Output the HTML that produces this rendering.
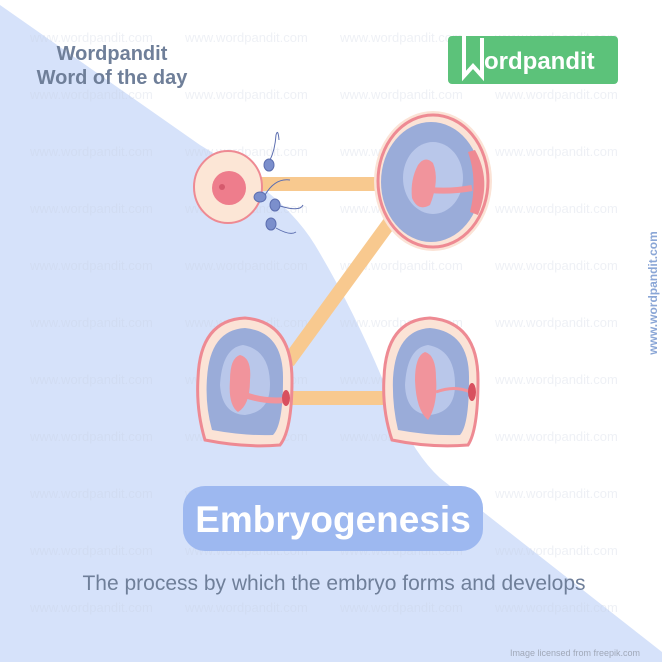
<!DOCTYPE html>
<html><head><meta charset="utf-8"><style>
html,body{margin:0;padding:0;width:662px;height:662px;overflow:hidden;background:#fff}
svg{display:block}
text{font-family:"Liberation Sans","DejaVu Sans",sans-serif}
</style></head><body>
<svg width="662" height="662" viewBox="0 0 662 662" xmlns="http://www.w3.org/2000/svg">
<rect width="662" height="662" fill="#fff"/>
<path d="M0,5 L200,145 Q285,195 315,245 Q360,320 395,410 Q415,455 440,478 L662,652 L662,662 L0,662 Z" fill="#d6e2fa"/>
<g font-size="13" fill="#c8d0e0" opacity="0.3">
<text x="30" y="42">www.wordpandit.com</text><text x="185" y="42">www.wordpandit.com</text><text x="340" y="42">www.wordpandit.com</text><text x="495" y="42">www.wordpandit.com</text>
<text x="30" y="99">www.wordpandit.com</text><text x="185" y="99">www.wordpandit.com</text><text x="340" y="99">www.wordpandit.com</text><text x="495" y="99">www.wordpandit.com</text>
<text x="30" y="156">www.wordpandit.com</text><text x="185" y="156">www.wordpandit.com</text><text x="340" y="156">www.wordpandit.com</text><text x="495" y="156">www.wordpandit.com</text>
<text x="30" y="213">www.wordpandit.com</text><text x="185" y="213">www.wordpandit.com</text><text x="340" y="213">www.wordpandit.com</text><text x="495" y="213">www.wordpandit.com</text>
<text x="30" y="270">www.wordpandit.com</text><text x="185" y="270">www.wordpandit.com</text><text x="340" y="270">www.wordpandit.com</text><text x="495" y="270">www.wordpandit.com</text>
<text x="30" y="327">www.wordpandit.com</text><text x="185" y="327">www.wordpandit.com</text><text x="340" y="327">www.wordpandit.com</text><text x="495" y="327">www.wordpandit.com</text>
<text x="30" y="384">www.wordpandit.com</text><text x="185" y="384">www.wordpandit.com</text><text x="340" y="384">www.wordpandit.com</text><text x="495" y="384">www.wordpandit.com</text>
<text x="30" y="441">www.wordpandit.com</text><text x="185" y="441">www.wordpandit.com</text><text x="340" y="441">www.wordpandit.com</text><text x="495" y="441">www.wordpandit.com</text>
<text x="30" y="498">www.wordpandit.com</text><text x="185" y="498">www.wordpandit.com</text><text x="340" y="498">www.wordpandit.com</text><text x="495" y="498">www.wordpandit.com</text>
<text x="30" y="555">www.wordpandit.com</text><text x="185" y="555">www.wordpandit.com</text><text x="340" y="555">www.wordpandit.com</text><text x="495" y="555">www.wordpandit.com</text>
<text x="30" y="612">www.wordpandit.com</text><text x="185" y="612">www.wordpandit.com</text><text x="340" y="612">www.wordpandit.com</text><text x="495" y="612">www.wordpandit.com</text>
</g>
<text x="112" y="60" font-size="20" font-weight="bold" fill="#6f7f99" text-anchor="middle">Wordpandit</text>
<text x="112" y="84" font-size="20" font-weight="bold" fill="#6f7f99" text-anchor="middle">Word of the day</text>
<rect x="448" y="36" width="170" height="48" rx="4" fill="#5cc27a"/>
<path d="M464,32 L464,76 L473,66 L482,76 L482,38" stroke="#fff" stroke-width="4" fill="none" stroke-linejoin="miter"/>
<text x="484" y="69" font-size="24" font-weight="bold" fill="#fff">ordpandit</text>
<text transform="translate(657,293) rotate(-90)" font-size="12" font-weight="bold" fill="#8aa6d6" text-anchor="middle">www.wordpandit.com</text>
<!-- connectors -->
<g stroke="#f8c98f" stroke-width="14" fill="none">
<line x1="260" y1="184" x2="380" y2="184"/>
<line x1="390" y1="222" x2="288" y2="362"/>
<line x1="288" y1="398" x2="386" y2="398"/>
</g>
<!-- egg -->
<ellipse cx="228" cy="187" rx="34" ry="36" fill="#fce6d6" stroke="#ee8a93" stroke-width="2"/>
<circle cx="229" cy="188" r="17" fill="#ee7d8c"/>
<circle cx="222" cy="187" r="3" fill="#d55a6d"/>
<!-- sperm -->
<g fill="#7b8fcc" stroke="#5d6fb0" stroke-width="1">
<ellipse cx="269" cy="165" rx="5" ry="6"/><path d="M270,160 Q275,150 276,135 Q278,128 279,140" fill="none"/>
<ellipse cx="260" cy="197" rx="6" ry="5"/><path d="M265,195 Q275,178 290,180" fill="none"/>
<ellipse cx="275" cy="205" rx="5" ry="6"/><path d="M280,206 Q300,212 303,205" fill="none"/>
<ellipse cx="271" cy="224" rx="5" ry="6"/><path d="M276,228 Q290,236 296,232" fill="none"/>
</g>
<!-- top right -->
<g>
<ellipse cx="433" cy="181" rx="59" ry="70" fill="#fbe3d6"/>
<ellipse cx="433" cy="181" rx="55" ry="66" fill="none" stroke="#ee8a93" stroke-width="3"/>
<ellipse cx="431" cy="182" rx="50" ry="60" fill="#9aacd9"/>
<ellipse cx="433" cy="178" rx="30" ry="36" fill="#b9c7ea"/>
<path d="M475,150 Q492,180 478,215 L470,212 Q478,180 468,152 Z" fill="#ee8a93"/>
<path d="M418,165 Q425,155 433,163 Q440,180 430,205 Q418,212 412,198 Q410,180 418,165 Z" fill="#f1949c"/>
<path d="M430,190 Q450,192 472,188" stroke="#f1949c" stroke-width="6" fill="none"/>
</g>
<!-- bottom left -->
<g>
<path d="M245,318 Q292,322 292,380 Q292,430 280,445 Q245,448 205,440 Q196,410 198,378 Q200,320 245,318 Z" fill="#fbe3d6" stroke="#ee8a93" stroke-width="3"/>
<path d="M245,328 Q284,332 283,380 Q283,425 273,435 Q245,436 212,430 Q205,405 207,378 Q210,330 245,328 Z" fill="#9aacd9"/>
<path d="M243,345 Q270,350 270,385 Q270,412 245,415 Q222,414 220,385 Q222,348 243,345 Z" fill="#b9c7ea"/>
<path d="M240,355 Q252,358 250,380 Q250,405 238,412 Q228,405 230,380 Q230,358 240,355 Z" fill="#f1949c"/>
<path d="M245,395 Q265,402 285,400" stroke="#f1949c" stroke-width="6" fill="none"/>
<ellipse cx="286" cy="398" rx="4" ry="8" fill="#d8505f"/>
</g>
<!-- bottom right -->
<g>
<path d="M430,318 Q478,322 478,380 Q478,430 468,445 Q430,448 392,440 Q382,410 384,378 Q386,320 430,318 Z" fill="#fbe3d6" stroke="#ee8a93" stroke-width="3"/>
<path d="M430,328 Q470,332 469,380 Q469,425 460,435 Q430,436 398,430 Q392,405 393,378 Q396,330 430,328 Z" fill="#9aacd9"/>
<path d="M428,345 Q455,350 455,385 Q455,412 430,415 Q406,414 405,385 Q407,348 428,345 Z" fill="#b9c7ea"/>
<path d="M425,352 Q436,355 436,378 Q438,405 428,420 Q416,410 415,380 Q415,356 425,352 Z" fill="#f1949c"/>
<path d="M436,392 Q455,385 470,392" stroke="#f1949c" stroke-width="3" fill="none"/>
<ellipse cx="472" cy="392" rx="4" ry="9" fill="#d8505f"/>
</g>
<!-- title pill -->
<rect x="183" y="486" width="300" height="65" rx="22" fill="#9db8f0"/>
<text x="333" y="532" font-size="37" font-weight="bold" fill="#fff" text-anchor="middle">Embryogenesis</text>
<text x="334" y="590" font-size="21" fill="#6f7f99" text-anchor="middle">The process by which the embryo forms and develops</text>
<text x="640" y="656" font-size="9" fill="#a0a8b8" text-anchor="end">Image licensed from freepik.com</text>
</svg>
</body></html>
